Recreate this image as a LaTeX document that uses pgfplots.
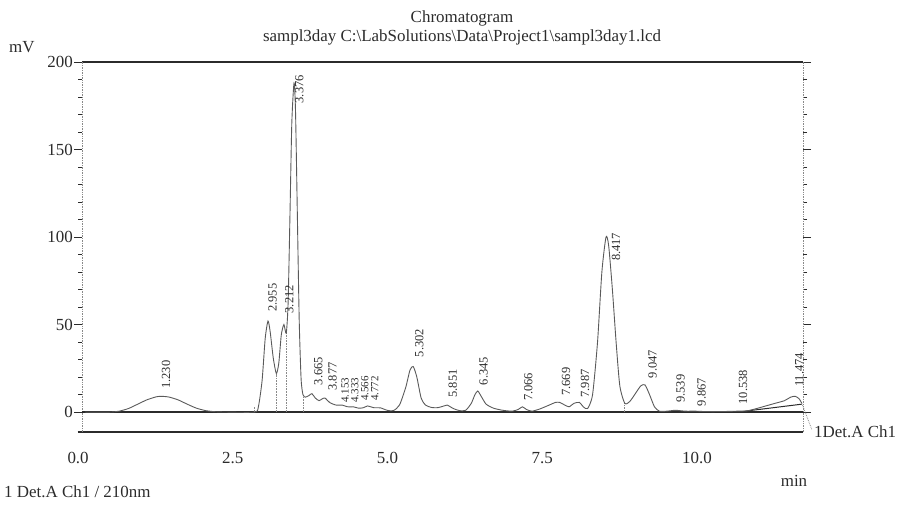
\documentclass[border=0pt]{standalone}
\usepackage{fontspec}
\setmainfont{Liberation Serif}
\usepackage{pgfplots}
\pgfplotsset{compat=1.18}

\definecolor{ink}{HTML}{2B2B2B}
\definecolor{trace}{HTML}{5A5A5A}
\definecolor{frame}{HTML}{8A8A8A}

% detector signal, mV against retention time, min
\pgfplotstableread{
t    mv
0.00 0
0.40 0
0.55 0.5
0.70 2
0.85 4.5
1.00 7
1.15 8.7
1.23 9
1.35 8.6
1.50 7
1.65 4.5
1.80 2.2
1.95 0.8
2.10 0.2
2.30 0
2.74 0
2.80 3
2.86 18
2.91 42
2.955 52
2.99 46
3.04 31
3.09 22
3.13 28
3.17 44
3.212 50
3.25 45
3.28 62
3.31 112
3.34 165
3.376 188
3.40 172
3.43 112
3.46 52
3.49 19
3.52 10
3.56 8.5
3.62 9.5
3.665 10.5
3.72 8
3.78 6.5
3.83 7.5
3.877 8
3.95 5.5
4.05 4
4.153 4
4.24 3
4.333 3
4.42 2.2
4.50 2.5
4.566 3.5
4.66 2.5
4.772 2.4
4.88 1
4.98 0.8
5.08 4
5.18 14
5.25 24
5.302 26
5.36 20
5.43 8
5.50 4
5.60 2.6
5.70 2.5
5.80 3.5
5.851 4
5.95 2
6.05 0.8
6.15 1
6.24 5
6.30 10
6.345 12
6.40 9
6.48 4.5
6.60 2.2
6.75 1
6.90 0.5
7.00 1.5
7.066 3
7.13 1.5
7.22 0.5
7.35 1.8
7.50 4
7.60 5.5
7.669 5.5
7.75 4
7.82 3
7.90 5
7.987 5.5
8.05 3
8.12 2
8.20 10
8.28 40
8.35 80
8.417 100
8.46 95
8.52 70
8.58 40
8.64 15
8.72 5
8.80 6
8.90 11
8.98 15
9.047 15.5
9.12 10
9.20 3
9.28 0.5
9.40 0.5
9.539 1
9.70 0.5
9.867 0.5
10.00 0.3
10.30 0.3
10.538 0.5
10.70 0.7
10.85 2
11.00 3.5
11.15 5
11.30 6.5
11.40 8.5
11.474 9
11.54 7.5
11.58 5
}\signal

\begin{document}
\begin{tikzpicture}
\useasboundingbox (0,0) rectangle (904bp,506bp);
\begin{axis}[
  at={(82bp,74bp)}, anchor=south west,
  scale only axis, width=721bp, height=370bp,
  xmin=-0.05, xmax=11.6, ymin=-11.4, ymax=200,
  clip=false,
  axis line style={draw=none},
  tick align=outside,
  xtick={0,2.5,5,7.5,10},
  xtick style={draw=none},
  major tick length=8bp,
  minor tick length=4bp,
  ytick={0,50,100,150,200},
  minor y tick num=4,
  ytick style={ink, line width=0.8bp},
  /pgf/number format/assume math mode=true,
  ticklabel style={font=\fontsize{17}{17}\selectfont, text=ink},
  xticklabel style={yshift=-9bp, xshift=-7bp, /pgf/number format/.cd, fixed, fixed zerofill, precision=1},
  yticklabel style={inner xsep=1bp},
]
% frame: solid top and bottom, dotted sides
\draw[ink, line width=1.2bp] (axis cs:-0.05,200) -- (axis cs:11.6,200);
\draw[ink, line width=1.1bp] (axis cs:-0.12,-11.4) -- (axis cs:11.6,-11.4);
\draw[frame, densely dotted, line width=0.7bp] (axis cs:-0.05,-11.4) -- (axis cs:-0.05,200);
\draw[frame, densely dotted, line width=0.7bp] (axis cs:11.6,-11.4) -- (axis cs:11.6,200);
% zero line
\draw[ink, line width=1.1bp] (axis cs:-0.05,0) -- (axis cs:11.6,0);

% drop lines between overlapping peaks
\addplot[frame, densely dotted, line width=0.6bp] coordinates {(2.74,0) (2.74,3)};
\addplot[frame, densely dotted, line width=0.6bp] coordinates {(3.09,0) (3.09,22)};
\addplot[frame, densely dotted, line width=0.6bp] coordinates {(3.25,0) (3.25,45)};
\addplot[frame, densely dotted, line width=0.6bp] coordinates {(3.52,0) (3.52,10)};
\addplot[frame, densely dotted, line width=0.6bp] coordinates {(8.72,0) (8.72,5)};

% drifting integration baseline under the last peak
\addplot[ink, line width=1bp] coordinates {(10.62,0.3) (11.58,4.5)};

% signal
\addplot[trace, line width=0.9bp, smooth, tension=0.4] table[x=t, y=mv] {\signal};
\coordinate (traceend) at (axis cs:11.58,5);

% retention time labels
\begin{scope}[every node/.style={rotate=90, anchor=west, inner sep=0.5bp, text=ink, font=\fontsize{12.5}{12.5}\selectfont}]
\node at (axis cs:1.31,13) {1.230};
\node at (axis cs:3.03,57) {2.955};
\node at (axis cs:3.30,56) {3.212};
\node at (axis cs:3.46,176) {3.376};
\node at (axis cs:3.77,15) {3.665};
\node at (axis cs:4.00,12) {3.877};
\node[font=\fontsize{11}{11}\selectfont] at (axis cs:4.20,5) {4.153};
\node[font=\fontsize{11}{11}\selectfont] at (axis cs:4.36,5) {4.333};
\node[font=\fontsize{11}{11}\selectfont] at (axis cs:4.52,6) {4.566};
\node[font=\fontsize{11}{11}\selectfont] at (axis cs:4.68,6) {4.772};
\node at (axis cs:5.40,31) {5.302};
\node at (axis cs:5.94,8) {5.851};
\node at (axis cs:6.44,15) {6.345};
\node at (axis cs:7.16,6) {7.066};
\node at (axis cs:7.77,9) {7.669};
\node at (axis cs:8.08,8) {7.987};
\node at (axis cs:8.58,86) {8.417};
\node at (axis cs:9.17,19) {9.047};
\node at (axis cs:9.62,5) {9.539};
\node at (axis cs:9.96,3) {9.867};
\node at (axis cs:10.63,4) {10.538};
\node at (axis cs:11.54,14) {11.474};
\end{scope}
\end{axis}

% titles and axis captions
\begin{scope}[every node/.style={text=ink, font=\fontsize{17}{17}\selectfont, inner sep=0pt}]
\node at (462bp,488bp) {Chromatogram};
\node at (462bp,469bp) {sampl3day C:\textbackslash LabSolutions\textbackslash Data\textbackslash Project1\textbackslash sampl3day1.lcd};
\node[anchor=west] at (9bp,459bp) {mV};
\node at (794bp,25bp) {min};
\node[anchor=west] at (4bp,14bp) {1 Det.A Ch1 / 210nm};
\node[anchor=west] at (814bp,74bp) {1Det.A Ch1};
\end{scope}
\draw[frame, densely dotted, line width=0.8bp] (traceend) -- (812bp,76bp);
\end{tikzpicture}
\end{document}
